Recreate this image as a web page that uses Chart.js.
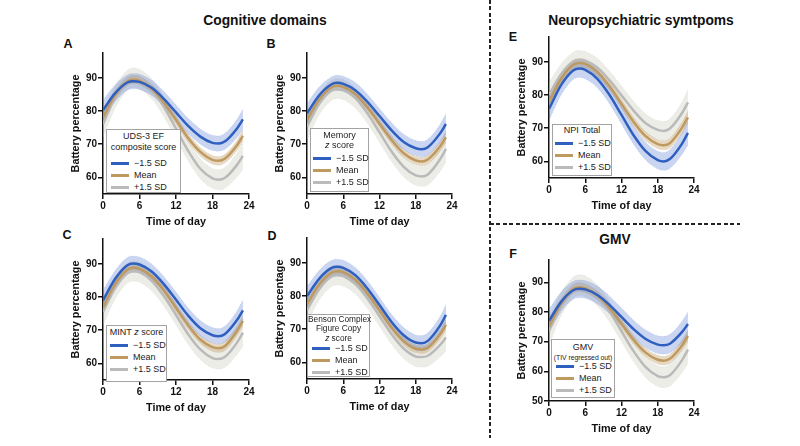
<!DOCTYPE html>
<html>
<head>
<meta charset="utf-8">
<script src="https://cdn.jsdelivr.net/npm/chart.js@4.4.0/dist/chart.umd.min.js"></script>
<style>
body { margin: 0; background: #fff; font-family: 'Liberation Sans', Arial, sans-serif; }
#page { position: relative; width: 800px; height: 446px; overflow: hidden; }
canvas { position: absolute; }
.txt { position: absolute; font-weight: bold; color: #111; white-space: nowrap; transform: translate(-50%, -50%); }
.big { font-size: 13.8px; }
.let { font-size: 12.5px; }
.lg { position: absolute; box-sizing: border-box; border: 1px solid #a3a3a3; background: #fff; color: #222; font-size: 9px; z-index: 2; }
.lt { position: absolute; left: 0; right: 0; text-align: center; white-space: nowrap; }
.le { position: absolute; white-space: nowrap; }
.le div { height: 12px; line-height: 12px; display: flex; align-items: center; }
.sw { display: inline-block; width: 18px; height: 3px; margin-right: 5px; }
.vdash { position: absolute; left: 489px; top: 0; width: 1.5px; height: 438px;
  background: repeating-linear-gradient(to bottom, #222 0 4px, transparent 4px 6.5px); }
.hdash { position: absolute; left: 490px; top: 223px; width: 250px; height: 1.5px;
  background: repeating-linear-gradient(to right, #222 0 4px, transparent 4px 6.5px); }
</style>
</head>
<body>
<div id="page">
  <div class="txt big" style="left:265px;top:20px">Cognitive domains</div>
  <div class="txt big" style="left:641px;top:20px">Neuropsychiatric symtpoms</div>
  <div class="txt big" style="left:615px;top:239px">GMV</div>
  <div class="vdash"></div>
  <div class="hdash"></div>

  <div class="txt let" style="left:68px;top:44px">A</div>
  <div class="txt let" style="left:271px;top:44px">B</div>
  <div class="txt let" style="left:67px;top:235px">C</div>
  <div class="txt let" style="left:272px;top:236px">D</div>
  <div class="txt let" style="left:513px;top:37px">E</div>
  <div class="txt let" style="left:513px;top:254px">F</div>

  <canvas id="cA"></canvas>
  <canvas id="cB"></canvas>
  <canvas id="cC"></canvas>
  <canvas id="cD"></canvas>
  <canvas id="cE"></canvas>
  <canvas id="cF"></canvas>

  <div class="lg" style="left:106px;top:129px;width:75px;height:64px">
    <div class="lt" style="top:1px;line-height:10.6px">UDS-3 EF<br>composite score</div>
    <div class="le" style="top:27px;left:4px"></div>
  </div>
  <div class="lg" style="left:310px;top:128px;width:59px;height:64px">
    <div class="lt" style="top:1px;line-height:10px">Memory<br><i>z</i> score</div>
    <div class="le" style="top:23px;left:2px"></div>
  </div>
  <div class="lg" style="left:106px;top:325px;width:61px;height:57px">
    <div class="lt" style="top:1px;line-height:11px">MINT <i>z</i> score</div>
    <div class="le" style="top:13px;left:3px"></div>
  </div>
  <div class="lg" style="left:307px;top:314px;width:63px;height:63px">
    <div class="lt" style="top:0px;line-height:9.3px;font-size:8.3px">Benson Complex<br>Figure Copy<br><i>z</i> score</div>
    <div class="le" style="top:27px;left:4px"></div>
  </div>
  <div class="lg" style="left:552px;top:124px;width:60px;height:52px">
    <div class="lt" style="top:0px;line-height:11px">NPI Total</div>
    <div class="le" style="top:12px;left:2px"></div>
  </div>
  <div class="lg" style="left:551px;top:339px;width:64px;height:59px">
    <div class="lt" style="top:2px;line-height:10px">GMV<br><span style="font-size:6.8px;line-height:8px;display:inline-block">(TIV regressed out)</span></div>
    <div class="le" style="top:20px;left:4px"></div>
  </div>
</div>

<script>
var hours = [0, 2, 4, 5, 6, 8, 10, 12, 14, 16, 18, 19, 20, 22, 23];
var xTicks = [0, 6, 12, 18, 24];
var yTicks = [60, 70, 80, 90];
var yTicksF = [50, 60, 70, 80, 90];
var seriesNames = ['\u22121.5 SD', 'Mean', '+1.5 SD'];

// A - UDS-3 EF composite score
var aLow  = [80.3, 85.4, 88.6, 89.0, 88.8, 87.0, 83.7, 79.6, 75.5, 72.3, 70.4, 70.2, 70.8, 74.7, 77.5];
var aMean = [78.0, 84.8, 88.9, 89.5, 89.2, 86.8, 82.6, 77.3, 71.9, 67.7, 65.3, 65.0, 65.6, 69.6, 72.5];
var aHigh = [76.0, 84.2, 89.3, 90.0, 89.6, 86.7, 81.3, 74.7, 68.0, 62.6, 59.7, 59.3, 59.8, 63.7, 66.5];
var aCI = [2.3, 1.3, 3.0];

// B - Memory z score
var bLow  = [79.3, 84.7, 88.0, 88.5, 88.2, 86.3, 82.8, 78.5, 74.2, 70.7, 68.8, 68.5, 69.1, 73.2, 76.1];
var bMean = [77.3, 83.4, 87.1, 87.6, 87.3, 85.1, 81.1, 76.2, 71.3, 67.3, 65.1, 64.8, 65.4, 69.3, 72.1];
var bHigh = [75.3, 82.1, 86.2, 86.8, 86.5, 83.9, 79.3, 73.6, 67.8, 63.2, 60.6, 60.3, 60.9, 65.4, 68.6];
var bCI = [2.3, 1.3, 3.0];

// C - MINT z score
var cLow  = [79.0, 85.5, 89.6, 90.1, 89.8, 87.7, 83.9, 79.2, 74.4, 70.6, 68.5, 68.2, 68.8, 73.0, 76.0];
var cMean = [76.8, 83.9, 88.2, 88.8, 88.5, 86.2, 82.0, 76.7, 71.5, 67.2, 64.9, 64.6, 65.2, 69.7, 72.8];
var cHigh = [75.5, 82.7, 87.2, 87.8, 87.5, 84.9, 80.3, 74.6, 68.8, 64.2, 61.6, 61.3, 61.9, 66.2, 69.3];
var cCI = [2.3, 1.3, 3.0];

// D - Benson Complex Figure Copy z score
var dLow  = [80.0, 85.2, 88.4, 88.8, 88.5, 86.3, 82.3, 77.3, 72.2, 68.2, 66.0, 65.8, 66.5, 71.0, 74.3];
var dMean = [77.5, 83.4, 87.0, 87.5, 87.2, 84.9, 80.8, 75.7, 70.5, 66.4, 64.1, 63.9, 64.4, 68.4, 71.3];
var dHigh = [75.8, 82.0, 85.8, 86.3, 86.0, 83.6, 79.3, 73.9, 68.5, 64.2, 61.8, 61.6, 62.0, 65.2, 67.5];
var dCI = [2.3, 1.3, 3.0];

// E - NPI Total
var eLow  = [75.8, 83.0, 87.4, 88.0, 87.6, 84.9, 80.1, 74.0, 67.9, 63.1, 60.4, 60.0, 60.7, 65.3, 68.6];
var eMean = [78.0, 84.9, 89.1, 89.7, 89.4, 87.0, 82.7, 77.3, 71.9, 67.6, 65.2, 64.9, 65.5, 70.1, 73.3];
var eHigh = [80.1, 86.3, 90.1, 90.6, 90.3, 88.3, 84.5, 79.9, 75.3, 71.5, 69.5, 69.2, 69.9, 74.5, 77.8];
var eCI = [2.7, 1.4, 2.8];

// F - GMV (TIV regressed out)
var fLow  = [77.0, 83.4, 87.3, 87.8, 87.6, 85.7, 82.4, 78.3, 74.2, 70.9, 69.0, 68.8, 69.3, 73.2, 75.9];
var fMean = [75.0, 82.8, 87.7, 88.3, 88.0, 85.6, 81.3, 76.0, 70.6, 66.3, 63.9, 63.6, 64.2, 68.7, 71.9];
var fHigh = [73.5, 82.6, 88.2, 89.0, 88.6, 85.6, 80.2, 73.5, 66.8, 61.4, 58.4, 58.0, 58.7, 63.7, 67.3];
var fCI = [3.0, 1.5, 3.5];

// the bands get a bit wider at both ends of the day
var ciShape = [1.3, 1.1, 1.0, 1.0, 1.0, 1.0, 1.0, 1.0, 1.0, 1.0, 1.0, 1.0, 1.05, 1.2, 1.35];

var lineColors = ['#2f5fbf', '#bf9a60', '#bababa'];
var bandColors = ['rgba(80,120,210,0.3)', 'rgba(195,160,105,0.4)', 'rgba(200,198,185,0.32)'];
var edgeColors = ['rgba(70,110,200,0.25)', 'rgba(180,150,100,0.28)', 'rgba(165,165,160,0.3)'];

/**
 * Legends (html boxes on top of the canvases)
 */
document.querySelectorAll('.le').forEach(function(el){
    var html = '';
    for(var i = 0; i < seriesNames.length; i++){
        html += '<div><span class="sw" style="background:' + lineColors[i] + '"></span>' + seriesNames[i] + '</div>';
    }
    el.innerHTML = html;
});

/**
 * One small chart per panel
 */
function drawPanel(id, rect, series, ci, yMin, ticksY){
    var padTop = 8, yAxisW = 62, padRight = 14, xAxisH = 42;
    var cv = document.getElementById(id);
    cv.width = yAxisW + rect[2] + padRight;
    cv.height = padTop + rect[3] + xAxisH;
    cv.style.left = (rect[0] - yAxisW) + 'px';
    cv.style.top = (rect[1] - padTop) + 'px';

    function toPoints(vals, k, sign){
        return hours.map(function(h, i){
            return {x: h, y: vals[i] + sign * ci[k] * ciShape[i]};
        });
    }

    var lines = [], bands = [];
    for(var k = 0; k < series.length; k++){
        lines.push({
            data: toPoints(series[k], k, 0),
            borderColor: lineColors[k],
            borderWidth: 2.5,
            fill: false,
            cubicInterpolationMode: 'monotone'
        });
        bands.push({
            data: toPoints(series[k], k, 1),
            borderColor: edgeColors[k],
            borderWidth: 0.7,
            borderDash: [1.2, 1.6],
            backgroundColor: bandColors[k],
            fill: '+1',
            cubicInterpolationMode: 'monotone'
        });
        bands.push({
            data: toPoints(series[k], k, -1),
            borderColor: edgeColors[k],
            borderWidth: 0.7,
            borderDash: [1.2, 1.6],
            fill: false,
            cubicInterpolationMode: 'monotone'
        });
    }

    var axisFont = {family: "'Liberation Sans', Arial, sans-serif", size: 10, weight: 'bold'};
    var titleFont = {family: "'Liberation Sans', Arial, sans-serif", size: 10.8, weight: 'bold'};

    new Chart(cv.getContext('2d'), {
        type: 'line',
        data: {datasets: lines.concat(bands)},
        options: {
            responsive: false,
            animation: false,
            events: [],
            layout: {padding: {top: padTop, right: padRight, left: 0, bottom: 0}},
            elements: {point: {radius: 0}},
            plugins: {
                legend: {display: false},
                tooltip: {enabled: false},
                filler: {drawTime: 'beforeDatasetsDraw'}
            },
            scales: {
                x: {
                    type: 'linear', min: 0, max: 24,
                    afterBuildTicks: function(s){ s.ticks = xTicks.map(function(v){ return {value: v}; }); },
                    afterFit: function(s){ s.height = xAxisH; },
                    grid: {display: true, drawOnChartArea: false, drawTicks: true, tickLength: 5, color: '#111', lineWidth: 1.5},
                    border: {display: true, color: '#111', width: 1.5},
                    ticks: {color: '#111', font: axisFont, padding: 1, maxRotation: 0, autoSkip: false},
                    title: {display: true, text: 'Time of day', color: '#111', font: titleFont, padding: {top: 0, bottom: 7}}
                },
                y: {
                    min: yMin, max: 97.5,
                    afterBuildTicks: function(s){ s.ticks = ticksY.map(function(v){ return {value: v}; }); },
                    afterFit: function(s){ s.width = yAxisW; },
                    grid: {display: true, drawOnChartArea: false, drawTicks: true, tickLength: 5, color: '#111', lineWidth: 1.5},
                    border: {display: true, color: '#111', width: 1.5},
                    ticks: {color: '#111', font: axisFont, padding: 1, autoSkip: false},
                    title: {display: true, text: 'Battery percentage', color: '#111', font: titleFont, padding: {top: 28.5, bottom: 0}}
                }
            }
        }
    });
}

drawPanel('cA', [103, 53, 146, 141], [aLow, aMean, aHigh], aCI, 55, yTicks);
drawPanel('cB', [307, 53, 145, 141], [bLow, bMean, bHigh], bCI, 55, yTicks);
drawPanel('cC', [103, 239, 146, 141], [cLow, cMean, cHigh], cCI, 55, yTicks);
drawPanel('cD', [307, 238, 145, 141], [dLow, dMean, dHigh], dCI, 55, yTicks);
drawPanel('cE', [549, 37, 145, 141], [eLow, eMean, eHigh], eCI, 55, yTicks);
drawPanel('cF', [549, 260, 145, 141], [fLow, fMean, fHigh], fCI, 50, yTicksF);
</script>
</body>
</html>
